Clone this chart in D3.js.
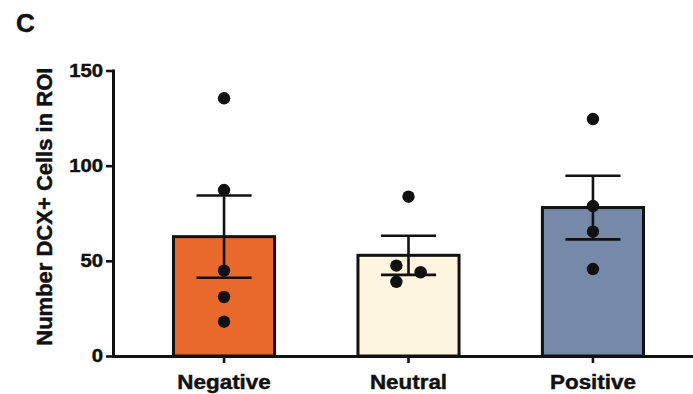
<!DOCTYPE html>
<html>
<head>
<meta charset="utf-8">
<script src="https://cdn.jsdelivr.net/npm/d3@7"></script>
<style>
  html, body { margin: 0; padding: 0; background: #fff; }
  svg { display: block; }
  text { font-family: "Liberation Sans", Arial, Helvetica, sans-serif; font-weight: bold; fill: #111; stroke: #111; stroke-width: 0.45px; }
</style>
</head>
<body>
<svg id="chart" width="693" height="394"></svg>
<script>
// Groups and their summary values (mean ± SEM) with individual animals
const categories = ["Negative", "Neutral", "Positive"];
const means = [62.7, 52.9, 78.0];
const sems = [21.6, 10.3, 16.7];
const negativePoints = [135.4, 87.2, 44.8, 31.0, 18.0];
const neutralPoints = [83.7, 47.5, 39.0, 44.0];
const positivePoints = [124.5, 78.8, 65.3, 45.7];
// small horizontal offsets (in bar widths) so overlapping dots stay visible
const neutralJitter = [0, -0.12, -0.12, 0.12];
const yTicks = [0, 50, 100, 150];
const yTitle = "Number DCX+ Cells in ROI";
const panelLetter = "C";

const fills = ["#E8692B", "#FDF5DF", "#7689A9"];
const points = [negativePoints, neutralPoints, positivePoints];
const jitters = [negativePoints.map(() => 0), neutralJitter, positivePoints.map(() => 0)];

const svg = d3.select("#chart");

const x = d3.scaleBand()
  .domain(categories)
  .range([173.5, 643.5])
  .paddingInner(0.452)
  .paddingOuter(0);

const y = d3.scaleLinear().domain([0, 150]).range([356, 70.5]);

// stretch text horizontally a little, as in the original figure export
function widen(sel, k) {
  sel.each(function () {
    const w = this.getComputedTextLength();
    d3.select(this).attr("textLength", w * k).attr("lengthAdjust", "spacingAndGlyphs");
  });
}

// bars
const g = svg.append("g");
g.selectAll("rect.bar")
  .data(categories)
  .join("rect")
  .attr("class", "bar")
  .attr("x", d => x(d))
  .attr("width", x.bandwidth())
  .attr("y", (d, i) => y(means[i]))
  .attr("height", (d, i) => y(0) - y(means[i]))
  .attr("fill", (d, i) => fills[i])
  .attr("stroke", "#111")
  .attr("stroke-width", 3);

// error bars (mean ± SEM)
const capW = x.bandwidth() * 0.545;
const eb = g.selectAll("g.err").data(categories).join("g").attr("class", "err")
  .attr("stroke", "#111").attr("stroke-width", 2.6);
eb.append("line")
  .attr("x1", d => x(d) + x.bandwidth() / 2)
  .attr("x2", d => x(d) + x.bandwidth() / 2)
  .attr("y1", (d, i) => y(means[i] - sems[i]))
  .attr("y2", (d, i) => y(means[i] + sems[i]));
eb.append("line")
  .attr("x1", d => x(d) + x.bandwidth() / 2 - capW / 2)
  .attr("x2", d => x(d) + x.bandwidth() / 2 + capW / 2)
  .attr("y1", (d, i) => y(means[i] + sems[i]))
  .attr("y2", (d, i) => y(means[i] + sems[i]));
eb.append("line")
  .attr("x1", d => x(d) + x.bandwidth() / 2 - capW / 2)
  .attr("x2", d => x(d) + x.bandwidth() / 2 + capW / 2)
  .attr("y1", (d, i) => y(means[i] - sems[i]))
  .attr("y2", (d, i) => y(means[i] - sems[i]));

// individual data points
categories.forEach((c, i) => {
  g.selectAll(null)
    .data(points[i])
    .join("circle")
    .attr("cx", (v, j) => x(c) + x.bandwidth() / 2 + jitters[i][j] * x.bandwidth())
    .attr("cy", v => y(v))
    .attr("r", 6.2)
    .attr("fill", "#111");
});

// y axis
const yAxis = svg.append("g")
  .attr("transform", "translate(113,0)")
  .call(d3.axisLeft(y).tickValues(yTicks).tickSize(7).tickPadding(3).tickSizeOuter(0));
yAxis.select(".domain").attr("stroke", "#111").attr("stroke-width", 3)
  .attr("d", `M0.5,${y(150) - 1}V${y(0) + 1.5}`);
yAxis.selectAll(".tick line").attr("stroke", "#111").attr("stroke-width", 2.6);
yAxis.selectAll(".tick text")
  .attr("font-size", 17.5)
  .attr("font-family", "'Liberation Sans', Arial, sans-serif")
  .attr("font-weight", "bold")
  .attr("fill", "#111")
  .call(widen, 1.16);

// x axis, running to the right edge
const xAxis = svg.append("g")
  .attr("transform", `translate(0,${y(0)})`)
  .call(d3.axisBottom(x).tickSize(7).tickPadding(12).tickSizeOuter(0));
xAxis.select(".domain").attr("stroke", "#111").attr("stroke-width", 3)
  .attr("d", "M112,0.5H693");
xAxis.selectAll(".tick line").attr("stroke", "#111").attr("stroke-width", 2.6);
xAxis.selectAll(".tick text")
  .attr("font-size", 20)
  .attr("font-family", "'Liberation Sans', Arial, sans-serif")
  .attr("font-weight", "bold")
  .attr("fill", "#111")
  .attr("dy", 0)
  .attr("y", 33)
  .call(widen, 1.12);

// y axis title
svg.append("text")
  .attr("transform", `translate(52,${(66.7 + 346.7) / 2}) rotate(-90)`)
  .attr("text-anchor", "middle")
  .attr("font-size", 22)
  .text(yTitle);

// panel letter
svg.append("text")
  .attr("x", 16)
  .attr("y", 31.5)
  .attr("font-size", 26)
  .text(panelLetter);
</script>
</body>
</html>
